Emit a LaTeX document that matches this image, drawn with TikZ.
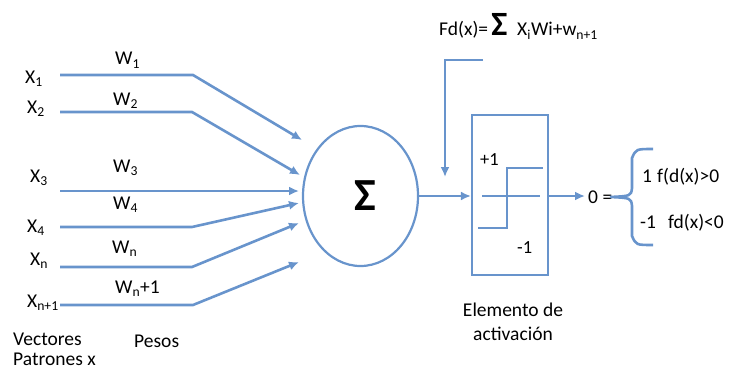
\documentclass[tikz,border=0pt]{standalone}
\usepackage{fontspec}
\setmainfont{Carlito}
\usetikzlibrary{arrows.meta,shapes.geometric}
\definecolor{lb}{RGB}{104,148,204}
\newcommand\sbs[1]{\textsubscript{#1}}
\begin{document}
\begin{tikzpicture}[x=1pt,y=-1pt,
  wire/.style={draw=lb,line width=2.6pt},
  arr/.style={wire,-{Latex[length=10pt,width=9pt]}},
  lbl/.style={font=\fontsize{19.5}{22}\selectfont,inner sep=0pt,anchor=base west},
  sml/.style={font=\fontsize{18.5}{21}\selectfont,inner sep=0pt,anchor=base west},
]
\useasboundingbox (0,0) rectangle (733,369);
% input labels
\node[lbl] (x1) at (25,83) {X\sbs{1}};
\node[lbl] (x2) at (27,113) {X\sbs{2}};
\node[lbl] (x3) at (30,182) {X\sbs{3}};
\node[lbl] (x4) at (27,232) {X\sbs{4}};
\node[lbl] (xn) at (30,265) {X\sbs{n}};
\node[lbl] (xn1) at (27,307) {X\sbs{n+1}};
% weights
\node[lbl] (w1) at (115,65) {W\sbs{1}};
\node[lbl] (w2) at (113,105) {W\sbs{2}};
\node[lbl] (w3) at (113,172) {W\sbs{3}};
\node[lbl] (w4) at (113,209) {W\sbs{4}};
\node[lbl] (wn) at (112,253) {W\sbs{n}};
\node[lbl] (wn1) at (115,293) {W\sbs{n}+1};
% bottom labels
\node[lbl] (vec) at (13,345) {Vectores};
\node[lbl] (pat) at (13,365) {Patrones x};
\node[lbl] (pes) at (134,347) {Pesos};
% summation
\node[draw=lb,line width=2.2pt,ellipse,minimum width=115,minimum height=140,inner sep=0pt] (sum) at (360.5,196) {};
\node[font=\fontsize{46}{46}\selectfont\bfseries,inner sep=0pt] (sig) at (365,196) {Σ};
% input wires
\coordinate (s1) at (60,75);  \coordinate (b1) at (193,75);  \coordinate (e1) at (302,140);
\coordinate (s2) at (60,112); \coordinate (b2) at (192,112); \coordinate (e2) at (300,175);
\coordinate (s3) at (60,191); \coordinate (e3) at (299,191);
\coordinate (s4) at (60,227); \coordinate (b4) at (192,227); \coordinate (e4) at (299,203);
\coordinate (s5) at (60,267); \coordinate (b5) at (192,267); \coordinate (e5) at (299,223);
\coordinate (s6) at (60,305); \coordinate (b6) at (193,305); \coordinate (e6) at (299,262);
\draw[arr] (s1) -- (b1) -- (e1);
\draw[arr] (s2) -- (b2) -- (e2);
\draw[arr] (s3) -- (e3);
\draw[arr] (s4) -- (b4) -- (e4);
\draw[arr] (s5) -- (b5) -- (e5);
\draw[arr] (s6) -- (b6) -- (e6);
% activation
\node[draw=lb,line width=2.2pt,minimum width=76,minimum height=160,inner sep=0pt] (act) at (510,195) {};
\coordinate (h0) at (482,196); \coordinate (h1) at (540,196);
\coordinate (t0) at (478,228); \coordinate (t1) at (507,228);
\coordinate (t2) at (507,168); \coordinate (t3) at (543,168);
\draw[wire] (h0) -- (h1);
\draw[wire] (t0) -- (t1) -- (t2) -- (t3);
\node[sml] (p1) at (480,165) {+1};
\node[sml] (m1) at (517,253) {-1};
\draw[arr] (sum.east) -- (sum.east -| act.west);
\node[lbl] (zero) at (588,203) {0 =};
\draw[arr] (act.east |- h0) -- (585,196) coordinate (zt);
% brace
\coordinate (br0) at (653,149); \coordinate (brt) at (610,197); \coordinate (br1) at (653,245);
\draw[wire] (br0) .. controls (636,149) .. (632,158) -- (632,188)
  .. controls (631,196) .. (brt) .. controls (631,198) .. (632,206) -- (632,236)
  .. controls (636,245) .. (br1);
\node[lbl] (c1) at (642,182) {1};
\node[lbl] (c1t) at (657,182) {f(d(x)>0};
\node[lbl] (c2) at (640,228) {-1};
\node[lbl] (c2t) at (668,228) {fd(x)<0};
\node[lbl,anchor=base] (el1) at (513,316) {Elemento de};
\node[lbl,anchor=base] (el2) at (513,340) {activación};
% formula and feedback
\node[lbl] (fd) at (439,36) {Fd(x)=\,{\fontsize{34}{34}\selectfont\bfseries Σ}\; X\sbs{i}Wi+w\sbs{n+1}};
\coordinate (fb0) at (483,60); \coordinate (fb1) at (445,60); \coordinate (fb2) at (445,177);
\draw[arr] (fb0) -- (fb1) -- (fb2);
\end{tikzpicture}
\end{document}
